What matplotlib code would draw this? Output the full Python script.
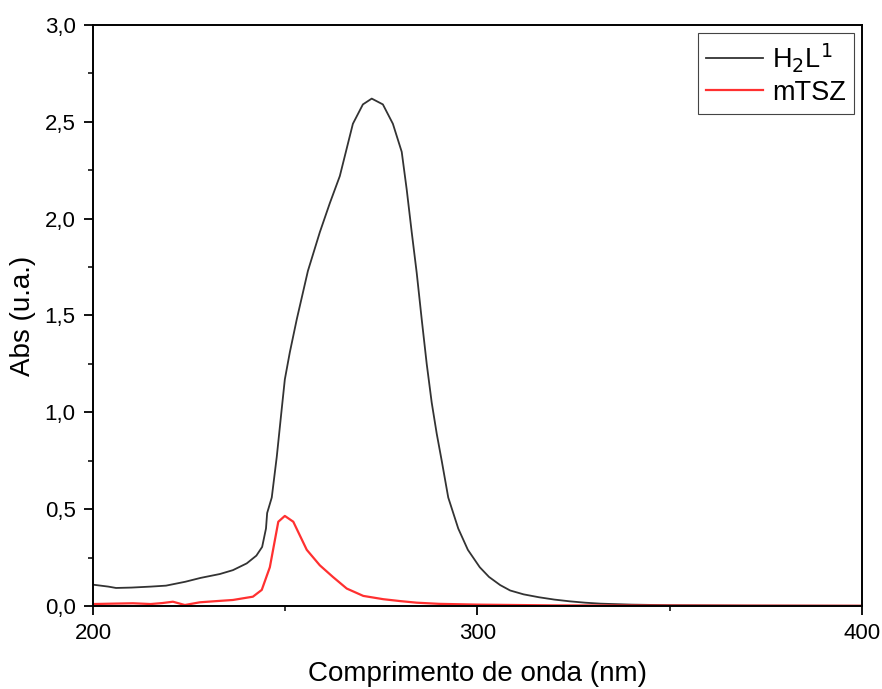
import numpy as np
import matplotlib.pyplot as plt
from matplotlib.ticker import MultipleLocator, FuncFormatter

plt.rcParams['font.family'] = ['Liberation Sans', 'DejaVu Sans']

# H2L1 spectrum
wl_h2l = [200, 204, 206, 210, 215, 219, 224, 228, 233, 236.4, 240, 242.5, 244,
          245, 245.3, 246.5, 247.8, 249, 249.9, 251.2, 253, 255.9, 259, 261.6,
          264.2, 267.6, 270.2, 272.5, 275.4, 278, 280.3, 281.6, 282.9, 284.2,
          285.5, 286.8, 288.1, 289.4, 290.7, 292.4, 295, 297.5, 300.6, 303,
          305.9, 308.5, 312, 316, 320, 324, 328, 332, 340, 350, 370, 400]
abs_h2l = [0.11, 0.10, 0.093, 0.095, 0.10, 0.105, 0.125, 0.145, 0.165, 0.185,
           0.22, 0.26, 0.305, 0.40, 0.48, 0.56, 0.77, 1.00, 1.17, 1.31, 1.48,
           1.73, 1.93, 2.08, 2.22, 2.49, 2.59, 2.62, 2.59, 2.49, 2.345, 2.15,
           1.93, 1.72, 1.48, 1.25, 1.05, 0.89, 0.75, 0.56, 0.40, 0.29, 0.20,
           0.15, 0.108, 0.08, 0.06, 0.045, 0.033, 0.024, 0.017, 0.012, 0.007,
           0.004, 0.002, 0.001]

# mTSZ spectrum
wl_mtsz = [200, 205, 210.4, 215, 218, 220.8, 223.9, 227.8, 232, 236.4, 241.6,
           243.9, 246, 248.2, 249.9, 252.1, 255.6, 259, 262.4, 266, 270.3,
           275.5, 280, 284.2, 290, 300, 320, 350, 400]
abs_mtsz = [0.01, 0.012, 0.014, 0.01, 0.015, 0.022, 0.005, 0.019, 0.025, 0.031,
            0.048, 0.083, 0.20, 0.435, 0.465, 0.435, 0.29, 0.21, 0.15, 0.09,
            0.052, 0.035, 0.025, 0.017, 0.011, 0.007, 0.003, 0.002, 0.001]

fig = plt.figure(figsize=(8.82, 6.89), dpi=100)
ax = fig.add_axes([0.1054, 0.1205, 0.8719, 0.8432])

ax.plot(wl_h2l, abs_h2l, color='#333333', lw=1.3, label=r'H$_2$L$^1$')
ax.plot(wl_mtsz, abs_mtsz, color='#ff3030', lw=1.6, label='mTSZ')

ax.set_xlim(200, 400)
ax.set_ylim(0, 3.0)
ax.xaxis.set_major_locator(MultipleLocator(100))
ax.xaxis.set_minor_locator(MultipleLocator(50))
ax.yaxis.set_major_locator(MultipleLocator(0.5))
ax.yaxis.set_minor_locator(MultipleLocator(0.25))
ax.yaxis.set_major_formatter(FuncFormatter(lambda v, p: f"{v:.1f}".replace('.', ',')))
ax.tick_params(which='major', direction='out', length=6.5, width=1.3,
               labelsize=16, pad=6)
ax.tick_params(which='minor', direction='out', length=3.3, width=1.1)
for s in ax.spines.values():
    s.set_linewidth(1.4)

ax.set_xlabel('Comprimento de onda (nm)', fontsize=20, labelpad=12)
ax.set_ylabel('Abs (u.a.)', fontsize=20, labelpad=6)

leg = ax.legend(loc='upper right', fontsize=19.5, fancybox=False, framealpha=1,
                edgecolor='#444444', handlelength=2.1, borderaxespad=0.28,
                handletextpad=0.35, borderpad=0.3, labelspacing=0.22)
leg.get_frame().set_linewidth(0.8)

fig.savefig('out.png', dpi=100)
